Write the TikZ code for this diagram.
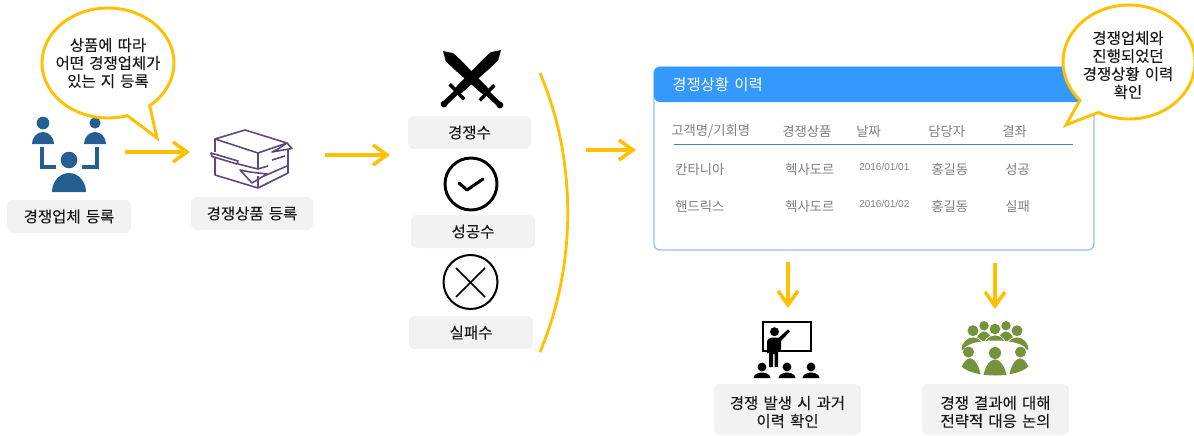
\documentclass[tikz,border=0pt]{standalone}
\usepackage{fontspec}
\setmainfont{Noto Sans CJK KR}[WordSpace=1.5]
\newfontfamily\boldish{Noto Sans CJK KR}[WordSpace=1.5,FakeBold=0.12]
\newfontfamily\latinf{Liberation Sans}
\usetikzlibrary{arrows.meta}
\definecolor{gold}{HTML}{FFC000}
\definecolor{lblfill}{HTML}{F2F2F2}
\definecolor{peopleblue}{HTML}{255E91}
\definecolor{boxpurple}{HTML}{5F497A}
\definecolor{panelblue}{HTML}{3399FF}
\definecolor{panelline}{HTML}{8DC3FF}
\definecolor{rulecol}{HTML}{4F81BD}
\definecolor{graytxt}{HTML}{7F7F7F}
\definecolor{meetgreen}{HTML}{76923C}
\tikzset{
  x=0.75pt,y=-0.75pt,
  lbl/.style={font=\boldish\fontsize{11.6pt}{13.5pt}\selectfont,text=black!90,align=center,inner sep=0pt},
  lblbox/.style={fill=lblfill,rounded corners=4.5pt,draw=none},
  flow/.style={draw=gold,line width=2.7pt,-{Straight Barb[length=10.5pt,width=15pt,line width=2.7pt]}},
  bubble/.style={draw=gold,fill=white,line width=2.2pt,line join=miter},
  cell/.style={font=\fontsize{10pt}{12pt}\selectfont,text=graytxt,anchor=west,inner sep=0pt},
  datecell/.style={font=\latinf\fontsize{7.5pt}{9pt}\selectfont,text=graytxt,anchor=west,inner sep=0pt},
  boxline/.style={draw=boxpurple,line width=1.2pt,line join=round},
  whiteedge/.style={fill=meetgreen,draw=white,line width=0.5pt},
}
% half-ellipse body: style, centre x, top y, half width, base y
\newcommand\bodydome[5]{\path[#1] (#2-#4,#5) .. controls (#2-#4,{#3+0.45*(#5-#3)}) and ({#2-0.55*#4},#3) .. (#2,#3) .. controls ({#2+0.55*#4},#3) and (#2+#4,{#3+0.45*(#5-#3)}) .. (#2+#4,#5) -- cycle;}
\begin{document}
\begin{tikzpicture}
\useasboundingbox (0,0) rectangle (1194,435);

% ---------- left: people icon
\fill[peopleblue] (43,123) circle[radius=6.3];
\fill[peopleblue] (95,123) circle[radius=5.6];
\bodydome{fill=peopleblue}{43}{132}{11}{144}
\bodydome{fill=peopleblue}{95}{132}{11}{144}
\fill[peopleblue] (69,160) circle[radius=8.3];
\bodydome{fill=peopleblue}{69}{173}{17}{192}
\draw[peopleblue,line width=3pt] (42,147) -- (42,167) -- (56,167);
\draw[peopleblue,line width=3pt] (97,147) -- (97,167) -- (82,167);

\node[lblbox,minimum width=93pt,minimum height=24.75pt] (lab1) at (69,216.5) {};
\node[lbl] (lab1t) at (69,216.5) {경쟁업체 등록};

% ---------- bubble 1
\draw[bubble] plot[domain=73:410.8,samples=90] ({108+66*cos(\x)},{63+55*sin(\x)}) -- (157,138) -- cycle;
\node[lbl] (bub1) at (108,63) {상품에 따라\\어떤 경쟁업체가\\있는 지 등록};

% ---------- box icon
\draw[boxline] (215,139) -- (245,130) -- (287,143) -- (258,153) -- cycle;
\draw[boxline] (215,139) -- (215,152);
\draw[boxline] (258,153) -- (258,168);
\draw[boxline] (288,150) -- (288,173) -- (258,188);
\draw[boxline] (211,153) -- (238,161) -- (237,164) -- (212,156.5) -- cycle;
\draw[boxline] (215,157) -- (215,175) -- (258,188);
\draw[boxline] (238,164) -- (258,169) -- (268,166);
\draw[boxline] (240,170) -- (252,183) -- (267,174) -- (250,172) -- cycle;
\draw[boxline] (258,176) -- (258,188);
\draw[boxline] (272,160) -- (285,156);
\draw[boxline] (264,176) -- (287,166);
\draw[boxline] (272,152) -- (292,148.5) -- (287,143) -- (278,149) -- cycle;
\node[lblbox,minimum width=91.5pt,minimum height=24.75pt] (lab2) at (252,213.5) {};
\node[lbl] (lab2t) at (252,213.5) {경쟁상품 등록};

% ---------- flow arrows
\coordinate (a1s) at (125,152); \coordinate (a1e) at (190,152);
\coordinate (a2s) at (325,155); \coordinate (a2e) at (390,155);
\coordinate (a3s) at (586,150); \coordinate (a3e) at (636,150);
\coordinate (a4s) at (788,262); \coordinate (a4e) at (788,308);
\coordinate (a5s) at (995,263); \coordinate (a5e) at (995,309);
\draw[flow] (a1s) -- (a1e);
\draw[flow] (a2s) -- (a2e);
\draw[flow] (a3s) -- (a3e);
\draw[flow] (a4s) -- (a4e);
\draw[flow] (a5s) -- (a5e);

% ---------- swords
\foreach \sx/\sy/\ang in {443/51/-43.5,501/50/-136.5}{
\begin{scope}[shift={(\sx,\sy)},rotate=\ang]
\fill[black] (0,0) -- (9,-5.5) -- (20,-5.6) -- (61,-4) -- (61,4) -- (20,5.6) -- (9,5.5) -- cycle;
\fill[black] (59,-10.5) -- (62.5,-10.5) -- (62.5,10.5) -- (59,10.5) -- cycle;
\fill[black] (62,-2.6) -- (77,-2.6) -- (77,2.6) -- (62,2.6) -- cycle;
\fill[black] (78.5,0) circle[radius=3.4];
\end{scope}}
\node[lblbox,minimum width=92.25pt,minimum height=24.75pt] (lab3) at (469.5,132.5) {};
\node[lbl] (lab3t) at (469.5,132.5) {경쟁수};

% ---------- check circle
\draw[black,line width=2.2pt] (471,184) circle[radius=26];
\draw[black,line width=2.3pt,line cap=round,line join=round] (459,183) -- (467,190) -- (483,179);
\node[lblbox,minimum width=93pt,minimum height=24.75pt] (lab4) at (473,231.5) {};
\node[lbl] (lab4t) at (473,231.5) {성공수};

% ---------- cross circle
\draw[black,line width=1.5pt] (470.5,282) circle[radius=27];
\draw[black,line width=1.1pt] (456,268) -- (485,297) (485,268) -- (456,297);
\node[lblbox,minimum width=93pt,minimum height=24.75pt] (lab5) at (471,332.5) {};
\node[lbl] (lab5t) at (471,332.5) {실패수};

% ---------- big arc
\draw[gold,line width=2.1pt] (540,73) .. controls (577,160) and (577,265) .. (540,352);

% ---------- panel
\draw[panelline,line width=1pt,rounded corners=4.5pt] (654,67) rectangle (1094,250);
\fill[panelblue,rounded corners=4.5pt] (654,67) rectangle (1094,102);
\node[font=\fontsize{11.6pt}{13.5pt}\selectfont,text=white,anchor=west,inner sep=0pt] (ptitle) at (672,85) {경쟁상황 이력};
\node[cell] (h1) at (671,131.5) {고객명/기회명};
\node[cell] (h2) at (782,131.5) {경쟁상품};
\node[cell] (h3) at (856,131.5) {날짜};
\node[cell] (h4) at (928,131.5) {담당자};
\node[cell] (h5) at (1002,131.5) {결좌};
\coordinate (rulel) at (674,144.5); \coordinate (ruler) at (1073,144.5);
\draw[rulecol,line width=0.9pt] (rulel) -- (ruler);
\node[cell] (r1a) at (675,169.5) {칸타니아};
\node[cell] (r1b) at (785,169.5) {헥사도르};
\node[datecell] (r1c) at (859,166.5) {2016/01/01};
\node[cell] (r1d) at (931,169.5) {홍길동};
\node[cell] (r1e) at (1005,169.5) {성공};
\node[cell] (r2a) at (675,206.5) {핸드릭스};
\node[cell] (r2b) at (785,206.5) {헥사도르};
\node[datecell] (r2c) at (859,203.5) {2016/01/02};
\node[cell] (r2d) at (931,206.5) {홍길동};
\node[cell] (r2e) at (1005,206.5) {실패};

% ---------- bubble 2
\draw[bubble] plot[domain=138:477.7,samples=90] ({1129+66*cos(\x)},{62+57*sin(\x)}) -- (1066,125) -- cycle;
\node[lbl] (bub2) at (1128,65) {경쟁업체와\\진행되었던\\경쟁상황 이력\\확인};

% ---------- teaching icon
\draw[black,line width=1.5pt] (762.7,322) rectangle (810.5,351);
\fill[black] (774.5,331.7) circle[radius=4.5];
\fill[black] (767,353) -- (767,342) .. controls (767,339) and (770,337.5) .. (774,337.5) -- (779,337.5) -- (788,329.5) -- (790,331.5) -- (781,341) -- (781,349) -- (778,352) -- (778,367) -- (774.5,367) -- (774.5,354) -- (773,354) -- (773,367) -- (769,367) -- (769,353) -- cycle;
\foreach \hx in {762,787,811}{
  \fill[black] (\hx,367) circle[radius=4.4];
  \bodydome{fill=black}{\hx}{372.5}{8.5}{378}
}
\node[lblbox,minimum width=110.25pt,minimum height=38.25pt] (lab6) at (787.5,409.5) {};
\node[lbl] (lab6t) at (787.5,412) {경쟁 발생 시 과거\\이력 확인};

% ---------- meeting icon
\foreach \cx/\top/\hw/\base in {984/331/9/345,1006/331/9/345,973/337/12/350,1017/337/12/350,995/335/12/348}{
  \bodydome{whiteedge}{\cx}{\top}{\hw}{\base}
}
\foreach \hx/\hy/\hr in {973/330.7/5.5,984/325.7/4.7,995/329/5.3,1006/325.7/4.7,1017/330.7/5.5}{
  \fill[meetgreen] (\hx,\hy) circle[radius=\hr];
}
\fill[white] (995,350) ellipse[x radius=31,y radius=9.5];
\begin{scope}
\clip (995,360) ellipse[x radius=37,y radius=15.5];
\foreach \cx/\top/\hw in {970/358/12,1020/358/12,995/359/13}{
  \bodydome{whiteedge}{\cx}{\top}{\hw}{385}
}
\end{scope}
\fill[meetgreen] (968.5,352) circle[radius=5.5];
\fill[meetgreen] (995,353) circle[radius=6];
\fill[meetgreen] (1020.5,352) circle[radius=5.5];
\node[lblbox,minimum width=110.25pt,minimum height=38.25pt] (lab7) at (995.5,409.5) {};
\node[lbl] (lab7t) at (995.5,412) {경쟁 결과에 대해\\전략적 대응 논의};
\end{tikzpicture}
\end{document}
